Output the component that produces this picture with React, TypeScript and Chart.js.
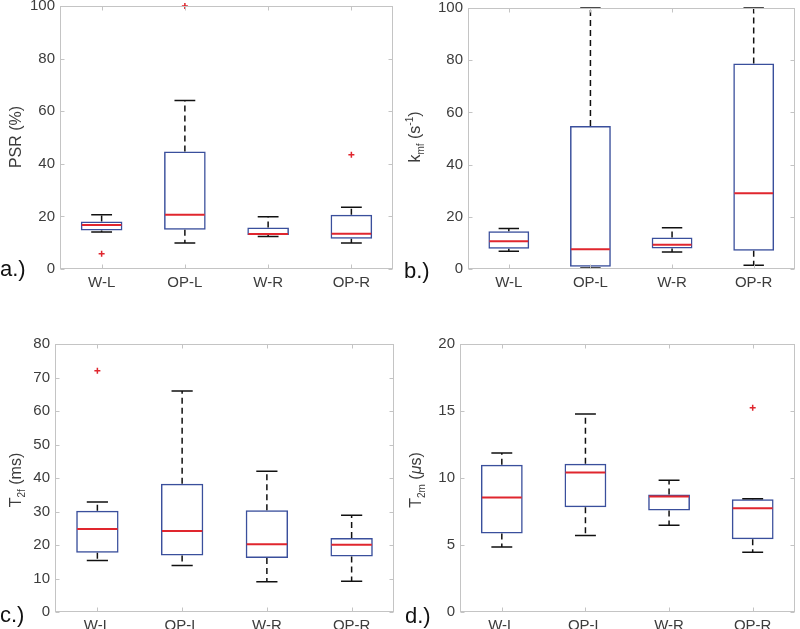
import React, { useEffect, useRef } from "react";
import { Chart, registerables } from "chart.js";

Chart.register(...registerables);

const categories = ["W-L", "OP-L", "W-R", "OP-R"];

// a.) PSR (%)
const psrLower = [14.1, 9.9, 12.4, 9.9];
const psrQ1 = [14.6, 14.9, 12.9, 11.5];
const psrMedian = [16.7, 20.6, 13.3, 13.4];
const psrQ3 = [18.1, 44.7, 15.8, 20.6];
const psrUpper = [20.6, 64.1, 19.9, 23.5];
const psrOutliers = [5.8, 100, null, 43.4];
const psrTicks = [0, 20, 40, 60, 80, 100];

// b.) kmf (s^-1)
const kmfLower = [6.8, 0.4, 6.5, 1.4];
const kmfQ1 = [7.8, 0.9, 7.9, 7.0];
const kmfMedian = [10.6, 7.6, 9.3, 29.0];
const kmfQ3 = [14.5, 54.8, 12.1, 78.7];
const kmfUpper = [15.5, 100, 15.8, 100];
const kmfOutliers = [null, null, null, null];
const kmfTicks = [0, 20, 40, 60, 80, 100];

// c.) T2f (ms)
const t2fLower = [15.4, 13.9, 9.0, 9.2];
const t2fQ1 = [17.7, 16.9, 16.1, 16.6];
const t2fMedian = [24.8, 24.2, 20.2, 20.1];
const t2fQ3 = [30.2, 38.3, 30.4, 22.1];
const t2fUpper = [32.8, 66.0, 42.0, 28.9];
const t2fOutliers = [72.0, null, null, null];
const t2fTicks = [0, 10, 20, 30, 40, 50, 60, 70, 80];

// d.) T2m (µs)
const t2mLower = [4.86, 5.7, 6.48, 4.46];
const t2mQ1 = [5.85, 7.82, 7.57, 5.43];
const t2mMedian = [8.54, 10.41, 8.62, 7.75];
const t2mQ3 = [10.98, 11.06, 8.77, 8.42];
const t2mUpper = [11.86, 14.77, 9.84, 8.45];
const t2mOutliers = [null, null, null, 15.24];
const t2mTicks = [0, 5, 10, 15, 20];

const BLUE = "#3a4f9c";
const RED = "#e0262e";
const FRAME = "#c4c4c4";
const TEXT = "#3c3c3c";
const FONT = "'Liberation Sans', Arial, Helvetica, sans-serif";

type Part = { t: string; size: number; dy: number; italic?: boolean };

type PanelSpec = {
  left: number;
  top: number;
  w: number;
  h: number;
  area: { l: number; r: number; t: number; b: number };
  lower: number[];
  q1: number[];
  median: number[];
  q3: number[];
  upper: number[];
  outliers: (number | null)[];
  ticks: number[];
  letter: string;
  letterPos: [number, number];
  title: Part[];
  titlePos: [number, number];
};

const panels: PanelSpec[] = [
  {
    left: 0, top: 0, w: 400, h: 300,
    area: { l: 60, r: 393, t: 6, b: 269 },
    lower: psrLower, q1: psrQ1, median: psrMedian, q3: psrQ3, upper: psrUpper, outliers: psrOutliers,
    ticks: psrTicks, letter: "a.)", letterPos: [0, 276],
    title: [{ t: "PSR (%)", size: 16, dy: 0 }], titlePos: [15, 137],
  },
  {
    left: 400, top: 0, w: 400, h: 300,
    area: { l: 68, r: 398, t: 8, b: 269 },
    lower: kmfLower, q1: kmfQ1, median: kmfMedian, q3: kmfQ3, upper: kmfUpper, outliers: kmfOutliers,
    ticks: kmfTicks, letter: "b.)", letterPos: [4, 278],
    title: [
      { t: "k", size: 16, dy: 0 },
      { t: "mf", size: 10, dy: 4, italic: false },
      { t: " (s", size: 16, dy: 0 },
      { t: "-1", size: 10, dy: -7 },
      { t: ")", size: 16, dy: 0 },
    ],
    titlePos: [14, 137],
  },
  {
    left: 0, top: 300, w: 400, h: 329,
    area: { l: 55, r: 394, t: 44, b: 312 },
    lower: t2fLower, q1: t2fQ1, median: t2fMedian, q3: t2fQ3, upper: t2fUpper, outliers: t2fOutliers,
    ticks: t2fTicks, letter: "c.)", letterPos: [0, 322],
    title: [
      { t: "T", size: 16, dy: 0 },
      { t: "2f", size: 10, dy: 4 },
      { t: " (ms)", size: 16, dy: 0 },
    ],
    titlePos: [15, 180],
  },
  {
    left: 400, top: 300, w: 400, h: 329,
    area: { l: 60, r: 398, t: 44, b: 312 },
    lower: t2mLower, q1: t2mQ1, median: t2mMedian, q3: t2mQ3, upper: t2mUpper, outliers: t2mOutliers,
    ticks: t2mTicks, letter: "d.)", letterPos: [5, 323],
    title: [
      { t: "T", size: 16, dy: 0 },
      { t: "2m", size: 10, dy: 4 },
      { t: " (", size: 16, dy: 0 },
      { t: "\u03bc", size: 16, dy: 0, italic: true },
      { t: "s)", size: 16, dy: 0 },
    ],
    titlePos: [15, 180],
  },
];

function makePlugin(p: PanelSpec) {
  return {
    id: "boxDecor",
    afterDatasetsDraw(chart: any) {
      const ctx = chart.ctx;
      const xs = chart.scales.x;
      const ys = chart.scales.y;
      const unit = xs.getPixelForValue(1) - xs.getPixelForValue(0);
      const halfBox = unit * 0.25;
      const halfCap = unit * 0.125;
      ctx.save();
      p.q1.forEach((_, i) => {
        const cx = xs.getPixelForValue(i);
        const yq1 = ys.getPixelForValue(p.q1[i]);
        const yq3 = ys.getPixelForValue(p.q3[i]);
        const ylo = ys.getPixelForValue(p.lower[i]);
        const yhi = ys.getPixelForValue(p.upper[i]);
        const ymed = ys.getPixelForValue(p.median[i]);
        // dashed whiskers
        ctx.strokeStyle = "#111";
        ctx.lineWidth = 1.5;
        ctx.setLineDash([6, 4]);
        ctx.beginPath();
        ctx.moveTo(cx, yq3);
        ctx.lineTo(cx, yhi);
        ctx.moveTo(cx, yq1);
        ctx.lineTo(cx, ylo);
        ctx.stroke();
        ctx.setLineDash([]);
        // caps
        ctx.beginPath();
        ctx.moveTo(cx - halfCap, yhi);
        ctx.lineTo(cx + halfCap, yhi);
        ctx.moveTo(cx - halfCap, ylo);
        ctx.lineTo(cx + halfCap, ylo);
        ctx.stroke();
        // median
        ctx.strokeStyle = RED;
        ctx.lineWidth = 2;
        ctx.beginPath();
        ctx.moveTo(cx - halfBox + 1, ymed);
        ctx.lineTo(cx + halfBox - 1, ymed);
        ctx.stroke();
      });
      ctx.restore();
    },
    afterDraw(chart: any) {
      const ctx = chart.ctx;
      const a = chart.chartArea;
      const xs = chart.scales.x;
      const ys = chart.scales.y;
      ctx.save();
      ctx.strokeStyle = FRAME;
      ctx.lineWidth = 1;
      const L = Math.round(a.left) + 0.5;
      const R = Math.round(a.right) - 0.5;
      const T = Math.round(a.top) + 0.5;
      const B = Math.round(a.bottom) - 0.5;
      ctx.strokeRect(L, T, R - L, B - T);
      ctx.beginPath();
      ys.ticks.forEach((t: any) => {
        const y = Math.round(ys.getPixelForValue(t.value)) + 0.5;
        ctx.moveTo(L, y);
        ctx.lineTo(L + 4, y);
        ctx.moveTo(R, y);
        ctx.lineTo(R - 4, y);
      });
      categories.forEach((_, i) => {
        const x = Math.round(xs.getPixelForValue(i)) + 0.5;
        ctx.moveTo(x, B);
        ctx.lineTo(x, B - 4);
        ctx.moveTo(x, T);
        ctx.lineTo(x, T + 4);
      });
      ctx.stroke();

      // panel letter
      ctx.fillStyle = "#111";
      ctx.font = `22px ${FONT}`;
      ctx.textAlign = "left";
      ctx.textBaseline = "alphabetic";
      ctx.fillText(p.letter, p.letterPos[0], p.letterPos[1]);

      // rotated y title with sub/superscripts
      ctx.fillStyle = TEXT;
      let total = 0;
      p.title.forEach((part) => {
        ctx.font = `${part.italic ? "italic " : ""}${part.size}px ${FONT}`;
        total += ctx.measureText(part.t).width;
      });
      ctx.translate(p.titlePos[0] + 6, p.titlePos[1]);
      ctx.rotate(-Math.PI / 2);
      let x = -total / 2;
      p.title.forEach((part) => {
        ctx.font = `${part.italic ? "italic " : ""}${part.size}px ${FONT}`;
        ctx.fillText(part.t, x, part.dy);
        x += ctx.measureText(part.t).width;
      });
      ctx.restore();
    },
  };
}

function Panel({ p }: { p: PanelSpec }) {
  const ref = useRef<HTMLCanvasElement | null>(null);
  useEffect(() => {
    if (!ref.current) return;
    const chart = new Chart(ref.current, {
      type: "bar",
      data: {
        labels: categories,
        datasets: [
          {
            type: "bar",
            data: p.q1.map((v, i) => [v, p.q3[i]]),
            backgroundColor: "rgba(0,0,0,0)",
            borderColor: BLUE,
            borderWidth: 1.5,
            borderSkipped: false,
            categoryPercentage: 1,
            barPercentage: 0.5,
            order: 2,
          } as any,
          {
            type: "line",
            data: p.outliers,
            showLine: false,
            pointStyle: "cross",
            pointRadius: 3,
            pointBorderWidth: 1.5,
            borderColor: RED,
            backgroundColor: RED,
            clip: false,
            order: 0,
          } as any,
        ],
      },
      options: {
        animation: false,
        responsive: false,
        maintainAspectRatio: false,
        layout: {
          padding: { left: 0, right: p.w - p.area.r, top: p.area.t, bottom: 0 },
        },
        plugins: {
          legend: { display: false },
          tooltip: { enabled: false },
        },
        scales: {
          x: {
            type: "category",
            offset: true,
            grid: { display: false, drawTicks: false },
            border: { display: false },
            ticks: { font: { family: FONT, size: 15 }, color: TEXT, padding: 5 },
            afterFit: (s: any) => {
              s.height = p.h - p.area.b;
              s.paddingLeft = 0;
              s.paddingRight = 0;
            },
          },
          y: {
            type: "linear",
            min: p.ticks[0],
            max: p.ticks[p.ticks.length - 1],
            afterBuildTicks: (s: any) => {
              s.ticks = p.ticks.map((v) => ({ value: v }));
            },
            grid: { display: false, drawTicks: false },
            border: { display: false },
            ticks: { font: { family: FONT, size: 15 }, color: TEXT, padding: 5 },
            afterFit: (s: any) => {
              s.width = p.area.l;
              s.paddingTop = 0;
              s.paddingBottom = 0;
            },
          },
        } as any,
      },
      plugins: [makePlugin(p)],
    });
    return () => chart.destroy();
  }, [p]);
  return (
    <canvas
      ref={ref}
      width={p.w}
      height={p.h}
      style={{ position: "absolute", left: p.left, top: p.top, width: p.w, height: p.h, display: "block" }}
    />
  );
}

export default function App() {
  return (
    <div style={{ position: "absolute", left: 0, top: 0, width: 800, height: 629, background: "#fff", overflow: "hidden" }}>
      {panels.map((p, i) => (
        <Panel key={i} p={p} />
      ))}
    </div>
  );
}
